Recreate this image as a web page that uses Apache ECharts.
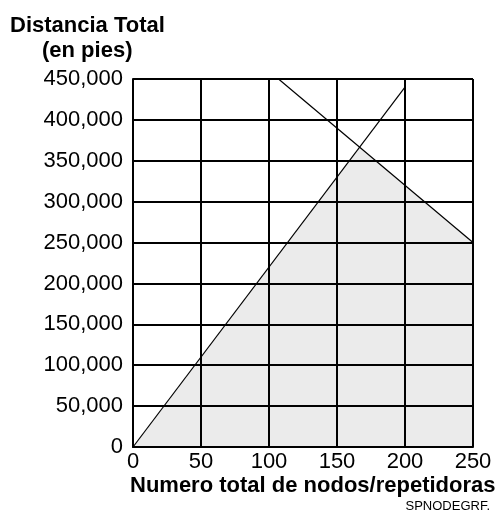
<!DOCTYPE html>
<html>
<head>
<meta charset="utf-8">
<script src="https://cdn.jsdelivr.net/npm/echarts@6/dist/echarts.min.js"></script>
<style>
  html, body { margin: 0; padding: 0; background: #fff; }
  #chart { width: 503px; height: 531px; }
</style>
</head>
<body>
<div id="chart"></div>
<script>
// values
var xTicks = [0, 50, 100, 150, 200, 250];
var yTicks = [0, 50000, 100000, 150000, 200000, 250000, 300000, 350000, 400000, 450000];

// rising line: distance grows with nodes
var riseX = [0, 200];
var riseY = [0, 440000];
// falling line
var fallX = [107, 250];
var fallY = [450000, 250000];
// shaded region (below both lines)
var shadeX = [0, 167, 250];
var shadeY = [0, 367000, 250000];

var FONT = '"Liberation Sans", Arial, sans-serif';

function pairs(xs, ys) {
    var out = [];
    for (var i = 0; i < xs.length; i++) out.push([xs[i], ys[i]]);
    return out;
}

function fmt(v) {
    return String(v).replace(/\B(?=(\d{3})+(?!\d))/g, ',');
}

var chart = echarts.init(document.getElementById('chart'));

chart.setOption({
    animation: false,
    backgroundColor: '#fff',
    grid: { left: 133, right: 30, top: 79, bottom: 84 },
    xAxis: {
        type: 'value',
        min: xTicks[0],
        max: xTicks[xTicks.length - 1],
        interval: 50,
        axisLine: { show: true, lineStyle: { color: '#000', width: 2 } },
        axisTick: { show: false },
        axisLabel: { color: '#000', fontSize: 22, fontFamily: FONT, margin: 4 },
        splitLine: { show: true, lineStyle: { color: '#000', width: 2 } }
    },
    yAxis: {
        type: 'value',
        min: yTicks[0],
        max: yTicks[yTicks.length - 1],
        interval: 50000,
        axisLine: { show: true, lineStyle: { color: '#000', width: 2 } },
        axisTick: { show: false },
        axisLabel: { color: '#000', fontSize: 22, fontFamily: FONT, margin: 10, formatter: fmt },
        splitLine: { show: true, lineStyle: { color: '#000', width: 2 } }
    },
    graphic: [
        {
            type: 'text', left: 10, top: 15,
            style: { text: 'Distancia Total', font: 'bold 22px ' + FONT, fill: '#000' }
        },
        {
            type: 'text', left: 42, top: 40,
            style: { text: '(en pies)', font: 'bold 22px ' + FONT, fill: '#000' }
        },
        {
            type: 'text', left: 130, top: 475,
            style: { text: 'Numero total de nodos/repetidoras', font: 'bold 22px ' + FONT, fill: '#000' }
        },
        {
            type: 'text', right: 13, top: 500,
            style: { text: 'SPNODEGRF.', font: '13px ' + FONT, fill: '#000' }
        }
    ],
    series: [
        {
            type: 'line',
            data: pairs(shadeX, shadeY),
            symbol: 'none',
            lineStyle: { width: 0 },
            areaStyle: { color: 'rgba(0,0,0,0.11)', origin: 'start' },
            z: 1
        },
        {
            type: 'line',
            data: pairs(riseX, riseY),
            symbol: 'none',
            lineStyle: { color: '#000', width: 1.2 },
            z: 3
        },
        {
            type: 'line',
            data: pairs(fallX, fallY),
            symbol: 'none',
            lineStyle: { color: '#000', width: 1.2 },
            z: 3
        }
    ]
});
</script>
</body>
</html>
